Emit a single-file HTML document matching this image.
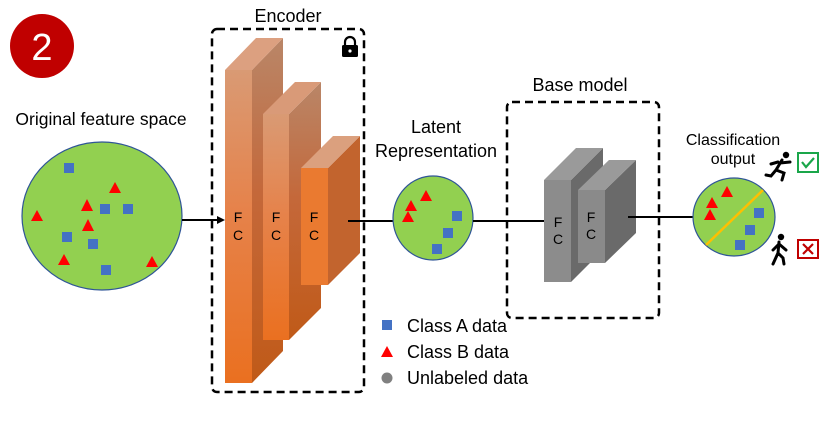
<!DOCTYPE html>
<html><head><meta charset="utf-8"><style>
html,body{margin:0;padding:0;background:#fff;}
svg{display:block;font-family:"Liberation Sans",Arial,sans-serif;}
</style></head><body>
<svg width="830" height="436" viewBox="0 0 830 436" xmlns="http://www.w3.org/2000/svg">
<defs>
<linearGradient id="of" x1="0" y1="0" x2="0" y2="1">
<stop offset="0" stop-color="#d99a74"/><stop offset="0.45" stop-color="#e6824a"/><stop offset="1" stop-color="#ea7020"/>
</linearGradient>
<linearGradient id="os" x1="0" y1="0" x2="0" y2="1">
<stop offset="0" stop-color="#b98668"/><stop offset="0.45" stop-color="#c4683a"/><stop offset="1" stop-color="#c05a18"/>
</linearGradient>
</defs>
<rect width="830" height="436" fill="#fff"/>
<circle cx="42" cy="46" r="32" fill="#c00000"/>
<text x="42" y="60" font-size="38" fill="#fff" text-anchor="middle">2</text>

<text x="101" y="125" font-size="17.5" text-anchor="middle">Original feature space</text>
<ellipse cx="102" cy="216" rx="80" ry="74" fill="#92d050" stroke="#2f5597" stroke-width="1.2"/>
<g fill="#4472c4">
<rect x="64" y="163" width="10" height="10"/><rect x="100" y="204" width="10" height="10"/><rect x="123" y="204" width="10" height="10"/><rect x="62" y="232" width="10" height="10"/><rect x="88" y="239" width="10" height="10"/><rect x="101" y="265" width="10" height="10"/>
</g>
<g fill="#ff0000">
<polygon points="115,182 109,193 121,193"/><polygon points="87,199 81,211 93,211"/><polygon points="37,210 31,221 43,221"/><polygon points="88,219 82,231 94,231"/><polygon points="64,254 58,265 70,265"/><polygon points="152,256 146,267 158,267"/>
</g>
<line x1="182" y1="220" x2="219" y2="220" stroke="#000" stroke-width="2"/>
<polygon points="225,220 217,216 217,224" fill="#000"/>

<text x="288" y="22" font-size="18" text-anchor="middle">Encoder</text>
<rect x="212" y="29" width="152" height="363" rx="5" fill="none" stroke="#000" stroke-width="2.5" stroke-dasharray="8,5"/>
<path d="M345,46 v-4 a5,5 0 0 1 10,0 v4" fill="none" stroke="#000" stroke-width="2.2"/>
<rect x="342" y="45" width="16" height="12" rx="1.5" fill="#000"/>
<circle cx="350" cy="51" r="1.6" fill="#fff"/>
<polygon points="252,70 283,38 283,351 252,383" fill="url(#os)"/>
<polygon points="225,70 256,38 283,38 252,70" fill="#dca080"/>
<rect x="225" y="70" width="27" height="313" fill="url(#of)"/>
<polygon points="289,114 321,82 321,308 289,340" fill="url(#os)"/>
<polygon points="263,114 295,82 321,82 289,114" fill="#d99a78"/>
<rect x="263" y="114" width="26" height="226" fill="url(#of)"/>
<polygon points="328,168 360,136 360,253 328,285" fill="#c2642e"/>
<polygon points="301,168 333,136 360,136 328,168" fill="#dba07e"/>
<rect x="301" y="168" width="27" height="117" fill="#ea7a30"/>
<g font-size="14" text-anchor="middle">
<text x="238" y="222">F</text><text x="238" y="240">C</text>
<text x="276" y="222">F</text><text x="276" y="240">C</text>
<text x="314" y="222">F</text><text x="314" y="240">C</text>
</g>
<line x1="348" y1="221" x2="393" y2="221" stroke="#000" stroke-width="2"/>

<text x="436" y="133" font-size="18" text-anchor="middle">Latent</text>
<text x="436" y="157" font-size="18" text-anchor="middle">Representation</text>
<ellipse cx="433" cy="218" rx="40" ry="42" fill="#92d050" stroke="#2f5597" stroke-width="1.2"/>
<g fill="#ff0000"><polygon points="426,190 420,201 432,201"/><polygon points="411,200 405,211 417,211"/><polygon points="408,211 402,222 414,222"/></g>
<g fill="#4472c4"><rect x="452" y="211" width="10" height="10"/><rect x="443" y="228" width="10" height="10"/><rect x="432" y="244" width="10" height="10"/></g>
<line x1="473" y1="221" x2="544" y2="221" stroke="#000" stroke-width="2"/>

<rect x="382" y="320" width="10" height="10" fill="#4472c4"/>
<polygon points="387,346 381,357 393,357" fill="#ff0000"/>
<circle cx="387" cy="378" r="5.5" fill="#808080"/>
<g font-size="18"><text x="407" y="332">Class A data</text><text x="407" y="358">Class B data</text><text x="407" y="384">Unlabeled data</text></g>

<text x="580" y="91" font-size="18" text-anchor="middle">Base model</text>
<rect x="507" y="102" width="152" height="216" rx="5" fill="none" stroke="#000" stroke-width="2.5" stroke-dasharray="8,5"/>
<polygon points="571,180 603,148 603,250 571,282" fill="#6a6a6a"/>
<polygon points="544,180 576,148 603,148 571,180" fill="#9a9a9a"/>
<rect x="544" y="180" width="27" height="102" fill="#8c8c8c"/>
<polygon points="605,190 636,160 636,233 605,263" fill="#6a6a6a"/>
<polygon points="578,190 609,160 636,160 605,190" fill="#9a9a9a"/>
<rect x="578" y="190" width="27" height="73" fill="#8a8a8a"/>
<g font-size="14" text-anchor="middle">
<text x="558" y="227">F</text><text x="558" y="244">C</text>
<text x="591" y="222">F</text><text x="591" y="239">C</text>
</g>
<line x1="628" y1="217" x2="694" y2="217" stroke="#000" stroke-width="2"/>

<text x="733" y="145" font-size="16" text-anchor="middle">Classification</text>
<text x="733" y="164" font-size="16" text-anchor="middle">output</text>
<ellipse cx="734" cy="217" rx="41" ry="39" fill="#92d050" stroke="#2f5597" stroke-width="1.2"/>
<line x1="706" y1="245" x2="763" y2="190" stroke="#ffc000" stroke-width="2.5"/>
<g fill="#ff0000"><polygon points="727,186 721,197 733,197"/><polygon points="712,197 706,208 718,208"/><polygon points="710,209 704,220 716,220"/></g>
<g fill="#4472c4"><rect x="754" y="208" width="10" height="10"/><rect x="745" y="225" width="10" height="10"/><rect x="735" y="240" width="10" height="10"/></g>
<g stroke="#000" stroke-width="3" stroke-linecap="round" fill="none">
<path d="M782,160 L776,170 M780,163 L790,162 M778,162 L771,164 M776,170 L784,173 L782,180 M776,170 L771,176 L766,175"/>
</g>
<circle cx="786" cy="155" r="3.2" fill="#000"/>
<rect x="798" y="153" width="20" height="19" fill="none" stroke="#1aa64a" stroke-width="2"/>
<path d="M802,162 L806,167 L814,158" fill="none" stroke="#1aa64a" stroke-width="2.2"/>
<g stroke="#000" stroke-width="3" stroke-linecap="round" fill="none">
<path d="M779,242 L778,253 M779,244 L786,250 M779,244 L773,250 M778,253 L783,258 L784,264 M778,253 L773,264"/>
</g>
<circle cx="781" cy="237" r="3.2" fill="#000"/>
<rect x="798" y="240" width="20" height="18" fill="none" stroke="#c00000" stroke-width="2"/>
<path d="M803,244 L813,254 M813,244 L803,254" stroke="#c00000" stroke-width="2.2"/>
</svg>
</body></html>
